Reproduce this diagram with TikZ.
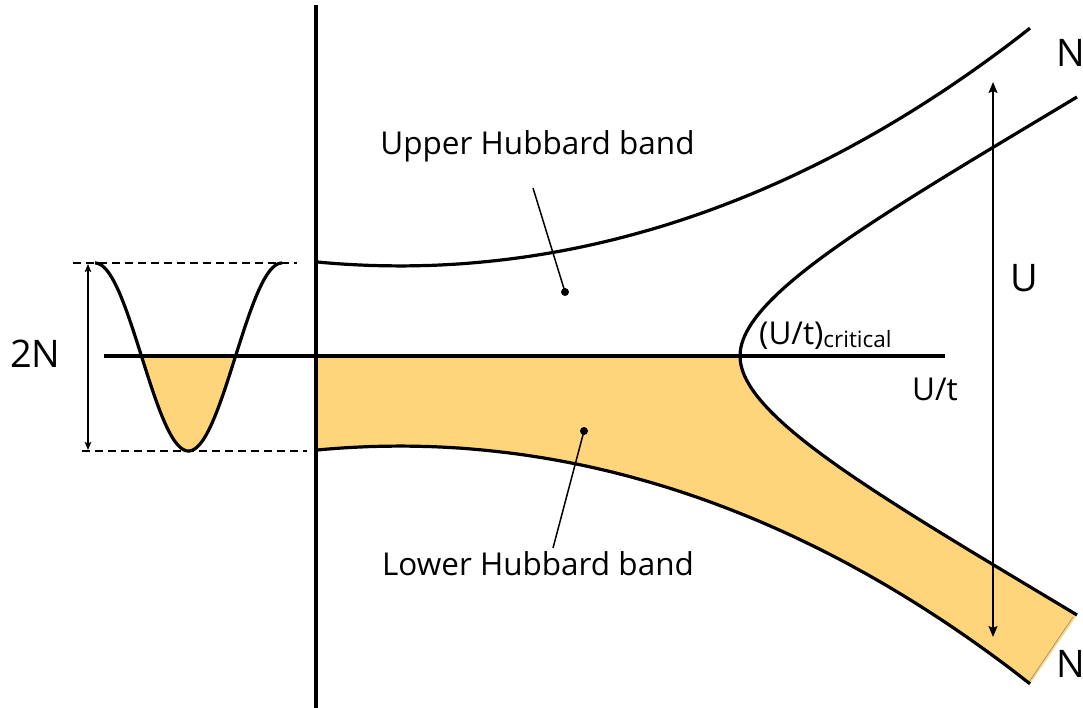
\documentclass[tikz,border=0pt]{standalone}
\usepackage{fontspec}
\setmainfont{Open Sans}
\usetikzlibrary{arrows.meta}
\definecolor{bandfill}{RGB}{254,213,122}
\begin{document}
\begin{tikzpicture}[x=1pt,y=-1pt,
  curve/.style={line width=3.2pt},
  axisline/.style={line width=3.2pt},
  guide/.style={line width=1.4pt, dash pattern=on 8pt off 5pt},
  pointer/.style={line width=1.5pt},
  dotnode/.style={circle, fill=black, inner sep=0pt, minimum size=8pt},
  lbl/.style={font=\fontsize{31.5}{33}\selectfont, inner sep=0pt},
  biglbl/.style={font=\fontsize{38}{40}\selectfont, inner sep=0pt},
  bigdim/.style={line width=1.5pt, {Stealth[length=11pt,width=9pt,inset=2pt]}-{Stealth[length=11pt,width=9pt,inset=2pt]}},
  smalldim/.style={line width=1.3pt, {Stealth[length=8pt,width=6.5pt,inset=1.5pt]}-{Stealth[length=8pt,width=6.5pt,inset=1.5pt]}},
]
\useasboundingbox (0,0) rectangle (1083,708);

% lower band fill
\fill[bandfill] (316,356) -- (740,356)
  .. controls (740,416) and (877,495) .. (1077,615)
  -- (1030,684)
  -- plot[domain=1030:316, samples=80] (\x, {446+932*(cosh((\x-400)/900)-1)})
  -- cycle;
\draw[line width=0.6pt, black!45] (1073,617) -- (1029,682);

% filled part of the density of states
\fill[bandfill] plot[domain=141.4:235.6, samples=60] (\x, {357+94*cos((\x-188.5)*1.92513)}) -- cycle;

% dashed guides
\coordinate (gtl) at (73,263);
\coordinate (gtr) at (297,263);
\coordinate (gbl) at (82,451);
\coordinate (gbr) at (307,451);
\draw[guide] (gtl) -- (gtr);
\draw[guide] (gbl) -- (gbr);

% axes
\coordinate (vtop) at (316,5);
\coordinate (vbot) at (316,708);
\coordinate (hleft) at (104,356);
\coordinate (hright) at (945,356);
\draw[axisline] (vtop) -- (vbot);
\draw[axisline] (hleft) -- (hright);

% density of states curve
\draw[curve] plot[domain=95:282, samples=100] (\x, {357+94*cos((\x-188.5)*1.92513)});

% band edges
\draw[curve] plot[domain=316:1030, samples=80] (\x, {266-932*(cosh((\x-400)/900)-1)});
\draw[curve] plot[domain=316:1030, samples=80] (\x, {446+932*(cosh((\x-400)/900)-1)});
\coordinate (hypvertex) at (740,356);
\coordinate (hyptop) at (1077,97);
\coordinate (hypbot) at (1077,615);
\draw[curve] (hyptop) .. controls (877,217) and (740,296) .. (hypvertex)
  .. controls (740,416) and (877,495) .. (hypbot);

% dimension arrows
\coordinate (ntop) at (88,264);
\coordinate (nbot) at (88,450);
\draw[smalldim] (ntop) -- (nbot);
\coordinate (utop) at (993,82);
\coordinate (ubot) at (993,637);
\draw[bigdim] (utop) -- (ubot);

% pointers
\node[dotnode] (udot) at (565,292) {};
\coordinate (utail) at (533,188);
\draw[pointer] (utail) -- (udot.center);
\node[dotnode] (ldot) at (584,431) {};
\coordinate (ltail) at (553,548);
\draw[pointer] (ltail) -- (ldot.center);

% labels
\node[lbl, anchor=base] (uhb) at (537.5,155) {Upper Hubbard band};
\node[lbl, anchor=base] (lhb) at (538,575) {Lower Hubbard band};
\node[lbl, anchor=base west] (ut) at (912,400) {U/t};
\node[lbl, anchor=base west] (crit) at (759,344) {(U/t)\raisebox{-3pt}{\fontsize{22.5}{24}\selectfont critical}};
\node[biglbl, anchor=base west] (ulab) at (1010,292) {U};
\node[biglbl, anchor=base west] (ntoplab) at (1056,67) {N};
\node[biglbl, anchor=base west] (nbotlab) at (1056,677) {N};
\node[biglbl, anchor=base west] (twon) at (10,367) {2N};
\end{tikzpicture}
\end{document}
